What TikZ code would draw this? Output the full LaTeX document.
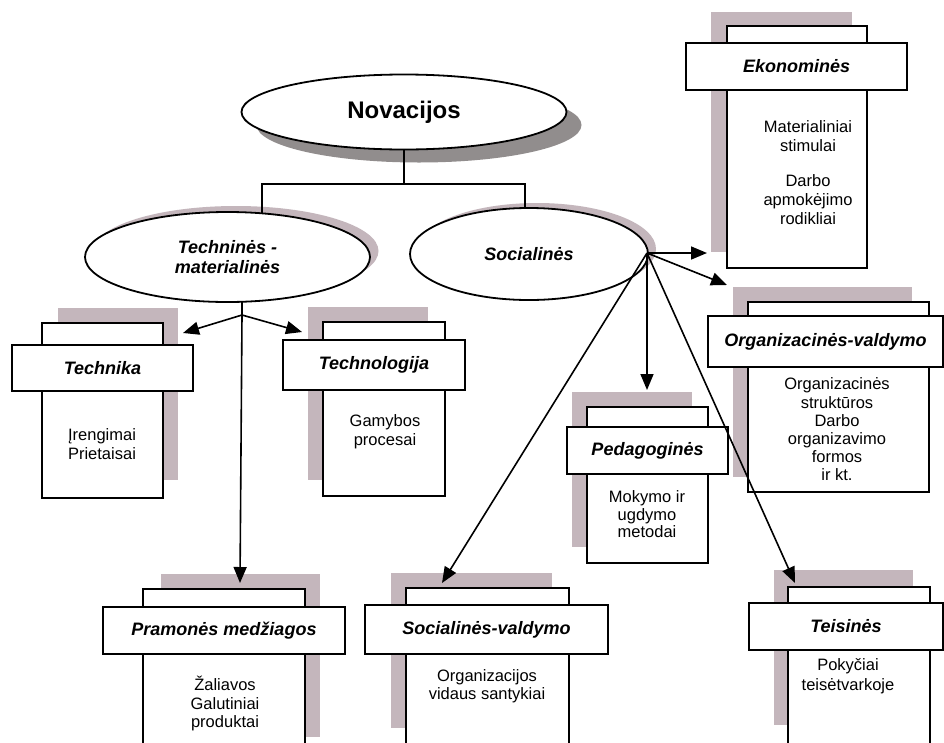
\documentclass[tikz,border=0pt]{standalone}
\usepackage{fontspec}
\setmainfont{Liberation Sans}
\usetikzlibrary{shapes.geometric,arrows.meta}
\definecolor{shd}{RGB}{196,182,188}
\definecolor{novshd}{RGB}{145,141,141}
\begin{document}
\begin{tikzpicture}[x=1pt,y=-1pt,
  sz/.style n args={2}{minimum width=#1pt,minimum height=#2pt},
  shadowr/.style={rectangle,fill=shd,draw=none,inner sep=0pt},
  backr/.style={rectangle,draw=black,fill=white,line width=1.6pt,inner sep=0pt},
  headr/.style={rectangle,draw=black,fill=white,line width=1.6pt,inner sep=0pt,
     font=\fontsize{18}{21}\selectfont\bfseries\itshape},
  bodyt/.style={align=center,inner sep=0pt,font=\fontsize{16.5}{19}\selectfont},
  ell/.style={ellipse,draw=black,fill=white,line width=1.8pt,inner sep=0pt,align=center},
  ellshd/.style={ellipse,fill=shd,draw=none,inner sep=0pt},
  conn/.style={line width=1.6pt},
  arr/.style={line width=1.6pt,-{Triangle[length=16pt,width=13pt]}}
]
\clip (0,0) rectangle (944,742);
\fill[white] (0,0) rectangle (944,742);

% ellipse shadows
\node[ellipse,fill=novshd,draw=none,inner sep=0pt,sz={325}{75}] (nov-s) at (419,125) {};
\node[ellshd,sz={285}{90}] (tech-s) at (236,251) {};
\node[ellshd,sz={238}{92}] (soc-s) at (537,249) {};

% tree connectors (under ellipses)
\coordinate (jc) at (404,184);
\coordinate (jl) at (262,184);
\coordinate (jr) at (525,184);
\coordinate (tsplit) at (242,315);
\draw[conn] (404,140) -- (jc);
\draw[conn] (jl |- 0,230) -- (jl) -- (jr) -- (jr |- 0,230);
\draw[conn] (tsplit) -- (242,280);

% ellipses
\node[ell,sz={325}{75},font=\fontsize{24}{28}\selectfont\bfseries] (nov) at (404,112) {Novacijos};
\node[ell,sz={285}{90},font=\fontsize{18}{20}\selectfont\bfseries\itshape] (tech) at (227.5,257) {Techninės -\\materialinės};
\node[ell,sz={238}{92},font=\fontsize{18}{21}\selectfont\bfseries\itshape] (soc) at (529,254) {Socialinės};

% ---- boxes ----
% Technika
\node[shadowr,sz={120}{172}] (tk-s) at (118,394) {};
\node[backr,sz={121}{175}] (tk-b) at (102.5,410.5) {};
\node[headr,sz={181}{46}] (tk) at (102.5,368) {Technika};
\node[bodyt] (tk-t) at (102,444) {Įrengimai\\Prietaisai};

% Technologija
\node[shadowr,sz={120}{173}] (tl-s) at (368,393.5) {};
\node[backr,sz={122}{174}] (tl-b) at (384,409) {};
\node[headr,sz={182}{50}] (tl) at (374,365) {Technologija};
\node[bodyt] (tl-t) at (385,432) {Gamybos\\procesai};

% Ekonomines
\node[shadowr,sz={141}{240}] (ek-s) at (781.5,132) {};
\node[backr,sz={140}{242}] (ek-b) at (797,147) {};
\node[headr,sz={221}{47}] (ek) at (796.5,66.5) {Ekonominės};
\node[bodyt] (ek-t1) at (808,136.5) {Materialiniai\\stimulai};
\node[bodyt] (ek-t2) at (808,200) {Darbo\\apmokėjimo\\rodikliai};

% Organizacines-valdymo
\node[shadowr,sz={179}{190}] (or-s) at (822.5,382) {};
\node[backr,sz={181}{190}] (or-b) at (838.5,397) {};
\node[headr,sz={235}{51}] (or) at (825.5,341.5) {Organizacinės-valdymo};
\node[bodyt,font=\fontsize{16.5}{18.2}\selectfont] (or-t) at (837,429.5) {Organizacinės\\struktūros\\Darbo\\organizavimo\\formos\\ir kt.};

% Pedagogines
\node[shadowr,sz={120}{155}] (pd-s) at (632,469.5) {};
\node[backr,sz={121}{156}] (pd-b) at (647.5,485) {};
\node[headr,sz={161}{47}] (pd) at (647.5,450.5) {Pedagoginės};
\node[bodyt,font=\fontsize{16.5}{17.5}\selectfont] (pd-t) at (647,514.5) {Mokymo ir\\ugdymo\\metodai};

% Pramones medziagos
\node[shadowr,sz={159}{163}] (pr-s) at (240.5,655.5) {};
\node[backr,sz={162}{171}] (pr-b) at (224,674.5) {};
\node[headr,sz={242}{47}] (pr) at (224,630.5) {Pramonės medžiagos};
\node[bodyt,font=\fontsize{16.5}{18.5}\selectfont] (pr-t) at (225,703.5) {Žaliavos\\Galutiniai\\produktai};

% Socialines-valdymo
\node[shadowr,sz={161}{155}] (sv-s) at (471.5,650.5) {};
\node[backr,sz={163}{172}] (sv-b) at (487.5,674) {};
\node[headr,sz={243}{49}] (sv) at (486.5,629.5) {Socialinės-valdymo};
\node[bodyt,font=\fontsize{16.5}{18}\selectfont] (sv-t) at (487,686) {Organizacijos\\vidaus santykiai};

% Teisines
\node[shadowr,sz={139}{155}] (te-s) at (843.5,647.5) {};
\node[backr,sz={142}{173}] (te-b) at (859,673.5) {};
\node[headr,sz={194}{47}] (te) at (846,626.5) {Teisinės};
\node[bodyt,font=\fontsize{16.5}{20}\selectfont] (te-t) at (848,676) {Pokyčiai\\teisėtvarkoje};

% ---- arrows ----
\coordinate (a-tk) at (183,333);
\coordinate (a-tl) at (302,332);
\coordinate (a-pr) at (240,583);
\draw[arr] (tsplit) -- (a-tk);
\draw[arr] (tsplit) -- (a-tl);
\draw[arr] (tsplit) -- (a-pr);

\coordinate (sfan) at (647,253);
\coordinate (a-ek) at (707,253);
\coordinate (a-or) at (727,285);
\coordinate (a-pd) at (647,390);
\coordinate (a-sv) at (442,583);
\coordinate (a-te) at (795,583);
\draw[arr] (sfan) -- (a-ek);
\draw[arr] (sfan) -- (a-or);
\draw[arr] (sfan) -- (a-pd);
\draw[arr] (sfan) -- (a-sv);
\draw[arr] (sfan) -- (a-te);
\end{tikzpicture}
\end{document}
